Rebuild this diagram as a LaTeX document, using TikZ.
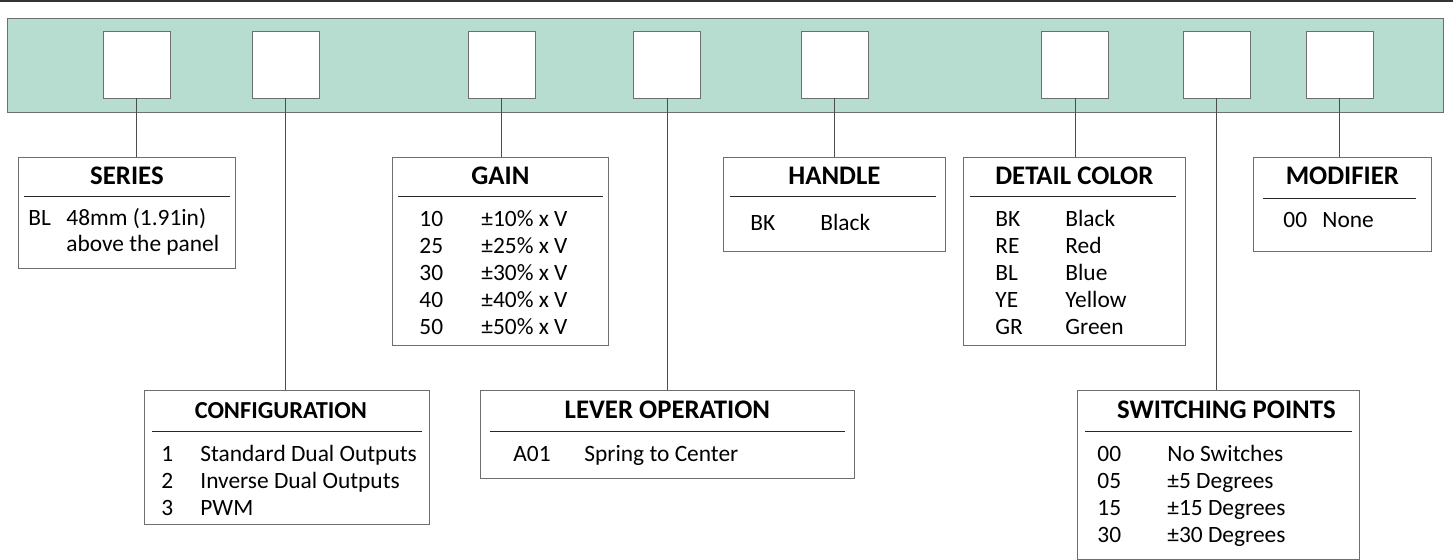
\documentclass[tikz,border=0pt]{standalone}
\usepackage{fontspec}
\setmainfont{Carlito}
\usepackage{tikz}
\usepackage{xcolor}
\definecolor{panelgreen}{RGB}{182,221,207}
\definecolor{edgegray}{RGB}{110,110,110}
\tikzset{
    panel/.style = {draw=edgegray, fill=panelgreen, thin, rectangle, anchor=north west, inner sep=0pt, minimum width=718pt, minimum height=47pt},
    digit-box/.style = {draw=edgegray, fill=white, thin, rectangle, inner sep=0pt, minimum width=33.5pt, minimum height=33.5pt},
    info-box/.style = {draw=edgegray, fill=white, thin, rectangle, anchor=north west, inner sep=0pt},
    info-title/.style = {font=\fontsize{13.4}{15}\selectfont\bfseries, anchor=base, inner sep=0pt},
    info-rule/.style = {draw=black!85, thin},
    entry/.style = {font=\fontsize{11.7}{13}\selectfont, anchor=base west, inner sep=0pt},
    link/.style = {draw=black!70, thin},
}

\begin{document}
\begin{tikzpicture}[x=0.5pt, y=-0.5pt]
\useasboundingbox (0,0) rectangle (1453,560);
\draw[black!80, thick] (0,1) -- (1453,1);
\node[panel] (bar) at (7,18) {};
% selection boxes along the bar
\foreach \name/\x in {ser/136.5, cfg/285.5, gn/501.5, lev/667, hdl/834.5, det/1075, sw/1216.5, mod/1339.5}
    \node[digit-box] (d-\name) at (\x,64.5) {};

% SERIES
\node[info-box, minimum width=108.5pt, minimum height=55.5pt] (series) at (18,157) {};
\node[info-title] at ([yshift=-14pt]series.north) {SERIES};
\draw[info-rule] ([xshift=3pt,yshift=-19.5pt]series.north west) -- ([xshift=-3pt,yshift=-19.5pt]series.north east);
\node[entry] at (28,226) {BL};
\node[entry] at (66,226) {48mm (1.91in)};
\node[entry] at (66,252) {above the panel};

% CONFIGURATION
\node[info-box, minimum width=142.5pt, minimum height=67pt] (config) at (144,390) {};
\node[info-title, font=\fontsize{12.2}{14}\selectfont\bfseries] at ([xshift=-3pt,yshift=-14.5pt]config.north) {CONFIGURATION};
\draw[info-rule] ([xshift=4pt,yshift=-20.5pt]config.north west) -- ([xshift=-4pt,yshift=-20.5pt]config.north east);
\foreach \c/\t [count=\i from 0] in {1/Standard Dual Outputs, 2/Inverse Dual Outputs, 3/PWM} {
    \node[entry] at (161,{462+26.7*\i}) {\c};
    \node[entry] at (200,{462+26.7*\i}) {\t};
}

% GAIN
\node[info-box, minimum width=108pt, minimum height=94pt] (gain) at (392,157) {};
\node[info-title] at ([yshift=-14pt]gain.north) {GAIN};
\draw[info-rule] ([xshift=3pt,yshift=-19.5pt]gain.north west) -- ([xshift=-3pt,yshift=-19.5pt]gain.north east);
\foreach \c/\t [count=\i from 0] in {10/±10\% x V, 25/±25\% x V, 30/±30\% x V, 40/±40\% x V, 50/±50\% x V} {
    \node[entry] at (419,{227+26.8*\i}) {\c};
    \node[entry] at (481,{227+26.8*\i}) {\t};
}

% LEVER OPERATION
\node[info-box, minimum width=187pt, minimum height=44pt] (lever) at (480,390) {};
\node[info-title] at ([yshift=-14.5pt]lever.north) {LEVER OPERATION};
\draw[info-rule] ([xshift=5pt,yshift=-20.5pt]lever.north west) -- ([xshift=-5pt,yshift=-20.5pt]lever.north east);
\node[entry] at (513,462) {A01};
\node[entry] at (584,462) {Spring to Center};

% HANDLE
\node[info-box, minimum width=111pt, minimum height=47pt] (handle) at (723,157) {};
\node[info-title] at ([yshift=-14pt]handle.north) {HANDLE};
\draw[info-rule] ([xshift=3.5pt,yshift=-19.5pt]handle.north west) -- ([xshift=-5pt,yshift=-19.5pt]handle.north east);
\node[entry] at (750,231) {BK};
\node[entry] at (820,231) {Black};

% DETAIL COLOR
\node[info-box, minimum width=111pt, minimum height=94pt] (detail) at (963,157) {};
\node[info-title] at ([yshift=-14pt]detail.north) {DETAIL COLOR};
\draw[info-rule] ([xshift=3.5pt,yshift=-19.5pt]detail.north west) -- ([xshift=-5pt,yshift=-19.5pt]detail.north east);
\foreach \c/\t [count=\i from 0] in {BK/Black, RE/Red, BL/Blue, YE/Yellow, GR/Green} {
    \node[entry] at (995,{227+26.8*\i}) {\c};
    \node[entry] at (1065,{227+26.8*\i}) {\t};
}

% SWITCHING POINTS
\node[info-box, minimum width=141pt, minimum height=84.5pt] (switch) at (1077,390) {};
\node[info-title] at ([xshift=4pt,yshift=-14.5pt]switch.north) {SWITCHING POINTS};
\draw[info-rule] ([xshift=4pt,yshift=-20.5pt]switch.north west) -- ([xshift=-4pt,yshift=-20.5pt]switch.north east);
\foreach \c/\t [count=\i from 0] in {00/No Switches, 05/±5 Degrees, 15/±15 Degrees, 30/±30 Degrees} {
    \node[entry] at (1097,{462+26.7*\i}) {\c};
    \node[entry] at (1167,{462+26.7*\i}) {\t};
}

% MODIFIER
\node[info-box, minimum width=89pt, minimum height=47pt] (modifier) at (1253,157) {};
\node[info-title] at ([yshift=-14pt]modifier.north) {MODIFIER};
\draw[info-rule] ([xshift=5pt,yshift=-20.5pt]modifier.north west) -- ([xshift=-8pt,yshift=-20.5pt]modifier.north east);
\node[entry] at (1283,228) {00};
\node[entry] at (1322,228) {None};

% connectors
\foreach \name/\target in {ser/series, cfg/config, gn/gain, lev/lever, hdl/handle, det/detail, sw/switch, mod/modifier}
    \draw[link] (d-\name.south) -- (d-\name.south |- \target.north);
\end{tikzpicture}
\end{document}
